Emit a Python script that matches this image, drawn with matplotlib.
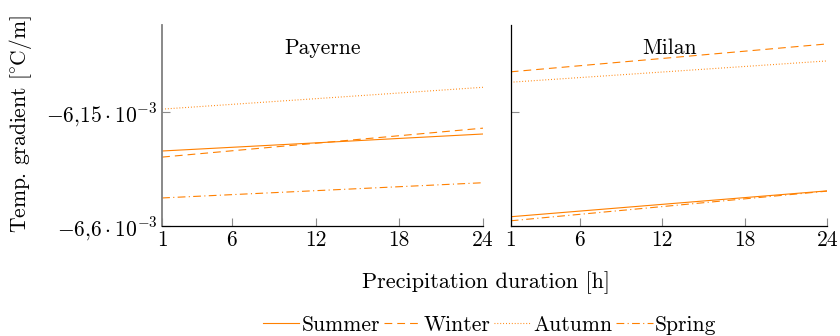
import matplotlib
matplotlib.use('Agg')
import matplotlib.pyplot as plt
from matplotlib.ticker import FuncFormatter

plt.rcParams['font.family'] = 'serif'
plt.rcParams['font.serif'] = ['cmr10']
plt.rcParams['mathtext.fontset'] = 'cm'
plt.rcParams['axes.unicode_minus'] = False

hours = [1, 24]
seasons = ['Summer', 'Winter', 'Autumn', 'Spring']
styles = {'Summer': '-', 'Winter': (0, (7, 4.5)), 'Autumn': (0, (0.8, 1.8)), 'Spring': (0, (7, 3, 1, 3))}

# temperature gradient [°C/m] at 1 h and 24 h
payerne = {
    'Summer': [-6.304e-3, -6.237e-3],
    'Winter': [-6.328e-3, -6.214e-3],
    'Autumn': [-6.139e-3, -6.053e-3],
    'Spring': [-6.489e-3, -6.429e-3],
}
milan = {
    'Summer': [-6.563e-3, -6.461e-3],
    'Winter': [-5.992e-3, -5.882e-3],
    'Autumn': [-6.033e-3, -5.949e-3],
    'Spring': [-6.579e-3, -6.462e-3],
}
stations = [('Payerne', payerne), ('Milan', milan)]
xticks = [1, 6, 12, 18, 24]
yticks = [-6.6e-3, -6.15e-3]
orange = '#ff8000'


def fmt(v, pos):
    s = ('%g' % (v * 1e3)).replace('.', '{,}')
    return r'$%s\cdot10^{-3}$' % s


fig = plt.figure(figsize=(8.4, 3.36), dpi=100)
ax1 = fig.add_axes([0.193, 0.327, 0.382, 0.599])
ax2 = fig.add_axes([0.608, 0.327, 0.377, 0.599], sharey=ax1)

handles = []
for ax, (name, data) in zip([ax1, ax2], stations):
    for s in seasons:
        ln, = ax.plot(hours, data[s], color=orange, lw=0.8, linestyle=styles[s], label=s)
        if ax is ax1:
            handles.append(ln)
    ax.set_xlim(1, 24)
    ax.set_ylim(-6.6e-3, -5.807e-3)
    ax.set_xticks(xticks)
    ax.set_yticks(yticks)
    ax.spines['top'].set_visible(False)
    ax.spines['right'].set_visible(False)
    ax.spines['bottom'].set_linewidth(0.9)
    ax.spines['left'].set_linewidth(0.9)
    ax.tick_params(direction='in', color='0.55', length=6, width=0.8, labelsize=15.5, pad=3)
    ax.text(0.5, 0.885, name, transform=ax.transAxes, ha='center', va='center', fontsize=15.5)

ax1.spines['left'].set_color('0.5')
ax1.spines['left'].set_linewidth(1.3)
ax1.yaxis.set_major_formatter(FuncFormatter(fmt))
ax2.tick_params(labelleft=False)

fig.text(0.025, 0.63, r'Temp. gradient [$\!^\circ\!$C/m]', rotation=90, ha='center', va='center', fontsize=15.5)
fig.text(0.579, 0.158, 'Precipitation duration [h]', ha='center', va='center', fontsize=16)
fig.legend(handles=handles, loc='center', bbox_to_anchor=(0.583, 0.032), ncol=4, frameon=False,
           fontsize=15.5, handlelength=1.7, handletextpad=0.1, columnspacing=0.2)

fig.savefig('out.png', dpi=100)
